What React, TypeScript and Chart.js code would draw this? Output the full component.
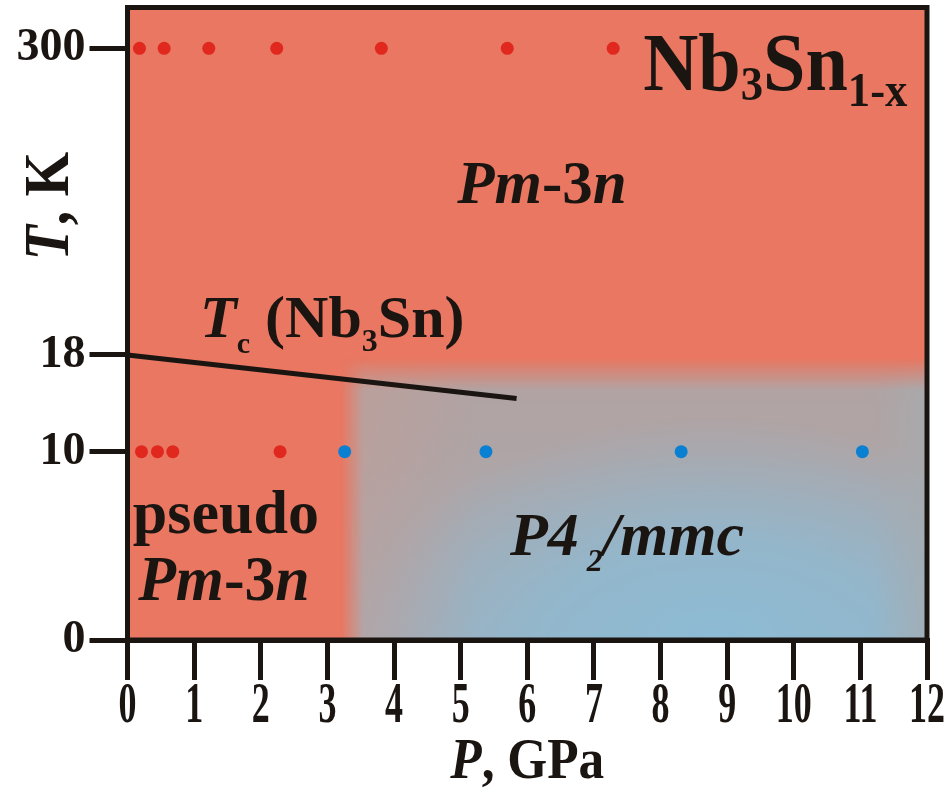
import React, { useEffect, useRef } from 'react';
import { Chart, registerables, LinearScale } from 'chart.js';

// ---------- data ----------
const pressureTicks = [0, 1, 2, 3, 4, 5, 6, 7, 8, 9, 10, 11, 12];
const temperatureTicks = [0, 10, 18, 300];
const temperatureTickLabels = ['0', '10', '18', '300'];

const redPressuresAt300K = [0.18, 0.55, 1.22, 2.24, 3.81, 5.7, 7.29];
const redPressuresAt10K = [0.21, 0.45, 0.68, 2.29];
const bluePressuresAt10K = [3.26, 5.38, 8.31, 11.03];

const tcLinePressures = [0, 5.84];
const tcLineTemperatures = [18, 14.4];

// tetragonal region (P, T) edges
const tetraRegionP = [3.2, 3.55];
const tetraRegionT = [17.75, 15.1];

// ---------- styling / scale definition ----------
const FONT = '"Liberation Serif", "Times New Roman", serif';
const INK = '#1b1512';
const SALMON = 'rgb(233,119,97)';
const RED_DOT = '#e0281f';
const BLUE_DOT = '#0a80d2';

// broken (piecewise-linear) temperature axis
const Y_SEGMENT_VALUES = [0, 10, 18, 300, 337.5];
const Y_SEGMENT_FRACTIONS = [0, 0.2977, 0.4506, 0.9355, 1];

function valueToFrac(v: number): number {
  const vals = Y_SEGMENT_VALUES;
  const fr = Y_SEGMENT_FRACTIONS;
  let i = 0;
  while (i < vals.length - 2 && v > vals[i + 1]) i++;
  return fr[i] + ((v - vals[i]) / (vals[i + 1] - vals[i])) * (fr[i + 1] - fr[i]);
}
function fracToValue(f: number): number {
  const vals = Y_SEGMENT_VALUES;
  const fr = Y_SEGMENT_FRACTIONS;
  let i = 0;
  while (i < fr.length - 2 && f > fr[i + 1]) i++;
  return vals[i] + ((f - fr[i]) / (fr[i + 1] - fr[i])) * (vals[i + 1] - vals[i]);
}

class BrokenLinearScale extends (LinearScale as any) {
  static id = 'brokenLinear';
  static defaults = {};
  getPixelForValue(value: number) {
    return (this as any).getPixelForDecimal(valueToFrac(value));
  }
  getValueForPixel(pixel: number) {
    return fracToValue((this as any).getDecimalForPixel(pixel));
  }
}

Chart.register(...registerables, BrokenLinearScale as any);

type Run = { t: string; size: number; italic?: boolean; dy?: number };

function runsWidth(ctx: CanvasRenderingContext2D, runs: Run[]) {
  let w = 0;
  for (const r of runs) {
    ctx.font = `${r.italic ? 'italic ' : ''}bold ${r.size}px ${FONT}`;
    w += ctx.measureText(r.t).width;
  }
  return w;
}

function drawRuns(ctx: CanvasRenderingContext2D, x: number, y: number, runs: Run[], sx = 1, align: 'left' | 'center' = 'left') {
  ctx.save();
  ctx.translate(x, y);
  ctx.scale(sx, 1);
  ctx.fillStyle = INK;
  ctx.textAlign = 'left';
  ctx.textBaseline = 'alphabetic';
  let cx = align === 'center' ? -runsWidth(ctx, runs) / 2 : 0;
  for (const r of runs) {
    ctx.font = `${r.italic ? 'italic ' : ''}bold ${r.size}px ${FONT}`;
    ctx.fillText(r.t, cx, r.dy || 0);
    cx += ctx.measureText(r.t).width;
  }
  ctx.restore();
}

// annotations anchored in data coordinates (P, T) = left/baseline
const annotations: { p: number; t: number; sx: number; runs: Run[] }[] = [
  {
    p: 7.74, t: 262, sx: 0.93,
    runs: [
      { t: 'Nb', size: 82 },
      { t: '3', size: 48, dy: 10 },
      { t: 'Sn', size: 82 },
      { t: '1-x', size: 48, dy: 16 },
    ],
  },
  {
    p: 4.95, t: 157.8, sx: 1,
    runs: [
      { t: 'Pm', size: 61, italic: true },
      { t: '-3', size: 61 },
      { t: 'n', size: 61, italic: true },
    ],
  },
  {
    p: 1.09, t: 34.5, sx: 1,
    runs: [
      { t: 'T', size: 60, italic: true },
      { t: 'c', size: 30, dy: 16 },
      { t: ' (Nb', size: 60 },
      { t: '3', size: 32, dy: 14 },
      { t: 'Sn)', size: 60 },
    ],
  },
  { p: 0.08, t: 5.68, sx: 1, runs: [{ t: 'pseudo', size: 62 }] },
  {
    p: 0.16, t: 2.12, sx: 0.98,
    runs: [
      { t: 'Pm', size: 63, italic: true },
      { t: '-3', size: 63 },
      { t: 'n', size: 63, italic: true },
    ],
  },
  {
    p: 5.74, t: 4.51, sx: 1,
    runs: [
      { t: 'P4', size: 62, italic: true },
      { t: ' 2', size: 32, italic: true, dy: 16 },
      { t: '/mmc', size: 62, italic: true },
    ],
  },
];

const backgroundPlugin = {
  id: 'phaseBackground',
  beforeDatasetsDraw(chart: any) {
    const { ctx, chartArea } = chart;
    const xs = chart.scales.x;
    const ys = chart.scales.y;
    const { left, top, right, bottom } = chartArea;
    ctx.save();
    ctx.fillStyle = SALMON;
    ctx.fillRect(left, top, right - left, bottom - top);

    const x0 = xs.getPixelForValue(tetraRegionP[0]);
    const x1 = xs.getPixelForValue(tetraRegionP[1]);
    const y0 = ys.getPixelForValue(tetraRegionT[0]);
    const y1 = ys.getPixelForValue(tetraRegionT[1]);
    const w = Math.ceil(right - x0);
    const h = Math.ceil(bottom - y0);
    const off = document.createElement('canvas');
    off.width = w;
    off.height = h;
    const o = off.getContext('2d') as CanvasRenderingContext2D;
    o.fillStyle = 'rgb(178,163,162)';
    o.fillRect(0, 0, w, h);
    let g = o.createLinearGradient(0, 0, 0, h);
    g.addColorStop(0, 'rgba(150,182,202,0)');
    g.addColorStop(0.35, 'rgba(150,182,202,0.1)');
    g.addColorStop(1, 'rgba(150,182,202,0.6)');
    o.fillStyle = g;
    o.fillRect(0, 0, w, h);
    const cx = xs.getPixelForValue(8.8) - x0;
    o.save();
    o.translate(cx, h);
    o.scale(1, 0.62);
    const rg = o.createRadialGradient(0, 0, 0, 0, 0, 360);
    rg.addColorStop(0, 'rgba(140,188,214,0.95)');
    rg.addColorStop(0.45, 'rgba(140,188,214,0.7)');
    rg.addColorStop(1, 'rgba(140,188,214,0)');
    o.fillStyle = rg;
    o.fillRect(-cx - 10, -h / 0.62 - 10, w + 20, h / 0.62 + 20);
    o.restore();
    g = o.createLinearGradient(0, 0, xs.getPixelForValue(5.2) - x0, 0);
    g.addColorStop(0, 'rgba(196,156,148,0.55)');
    g.addColorStop(1, 'rgba(196,156,148,0)');
    o.fillStyle = g;
    o.fillRect(0, 0, w, h);
    g = o.createLinearGradient(xs.getPixelForValue(11.2) - x0, 0, w, 0);
    g.addColorStop(0, 'rgba(166,172,176,0)');
    g.addColorStop(1, 'rgba(166,172,176,0.7)');
    o.fillStyle = g;
    o.fillRect(0, 0, w, h);
    o.globalCompositeOperation = 'destination-in';
    g = o.createLinearGradient(0, 0, x1 - x0, 0);
    g.addColorStop(0, 'rgba(0,0,0,0)');
    g.addColorStop(1, 'rgba(0,0,0,1)');
    o.fillStyle = g;
    o.fillRect(0, 0, w, h);
    g = o.createLinearGradient(0, 0, 0, y1 - y0);
    g.addColorStop(0, 'rgba(0,0,0,0)');
    g.addColorStop(1, 'rgba(0,0,0,1)');
    o.fillStyle = g;
    o.fillRect(0, 0, w, h);

    ctx.beginPath();
    ctx.rect(left, top, right - left, bottom - top);
    ctx.clip();
    ctx.drawImage(off, x0, y0);
    ctx.restore();
  },
};

const overlayPlugin = {
  id: 'overlay',
  afterDatasetsDraw(chart: any) {
    const { ctx, chartArea } = chart;
    const xs = chart.scales.x;
    const ys = chart.scales.y;
    for (const a of annotations) {
      drawRuns(ctx, xs.getPixelForValue(a.p), ys.getPixelForValue(a.t), a.runs, a.sx);
    }
    ctx.save();
    ctx.strokeStyle = INK;
    ctx.lineWidth = 5;
    ctx.lineJoin = 'miter';
    ctx.strokeRect(chartArea.left, chartArea.top, chartArea.right - chartArea.left, chartArea.bottom - chartArea.top);
    ctx.restore();
  },
  afterDraw(chart: any) {
    const { ctx, chartArea } = chart;
    const xs = chart.scales.x;
    ctx.save();
    ctx.fillStyle = INK;
    ctx.font = `bold 58px ${FONT}`;
    ctx.textAlign = 'center';
    ctx.textBaseline = 'alphabetic';
    for (const tk of xs.ticks) {
      const px = xs.getPixelForValue(tk.value);
      ctx.save();
      ctx.translate(px, 722);
      ctx.scale(0.62, 1);
      ctx.fillText(String(tk.value), 0, 0);
      ctx.restore();
    }
    ctx.restore();
    drawRuns(
      ctx,
      (chartArea.left + chartArea.right) / 2,
      778,
      [
        { t: 'P', size: 57, italic: true },
        { t: ', GPa', size: 57 },
      ],
      0.9,
      'center'
    );
    ctx.save();
    ctx.translate(68, 206);
    ctx.rotate(-Math.PI / 2);
    drawRuns(
      ctx,
      0,
      0,
      [
        { t: 'T', size: 64, italic: true },
        { t: ', K', size: 64 },
      ],
      0.9,
      'center'
    );
    ctx.restore();
  },
};

export default function App() {
  const ref = useRef<HTMLCanvasElement | null>(null);
  useEffect(() => {
    const canvas = ref.current;
    if (!canvas) return;
    const chart = new Chart(canvas, {
      type: 'scatter',
      data: {
        datasets: [
          {
            type: 'line',
            data: tcLinePressures.map((p, i) => ({ x: p, y: tcLineTemperatures[i] })),
            borderColor: INK,
            borderWidth: 5,
            pointRadius: 0,
            fill: false,
            order: 3,
          } as any,
          {
            data: redPressuresAt300K.map((p) => ({ x: p, y: 300 })),
            backgroundColor: RED_DOT,
            borderWidth: 0,
            pointRadius: 6.5,
            order: 1,
          },
          {
            data: redPressuresAt10K.map((p) => ({ x: p, y: 10 })),
            backgroundColor: RED_DOT,
            borderWidth: 0,
            pointRadius: 6.5,
            order: 1,
          },
          {
            data: bluePressuresAt10K.map((p) => ({ x: p, y: 10 })),
            backgroundColor: BLUE_DOT,
            borderWidth: 0,
            pointRadius: 6.5,
            order: 1,
          },
        ],
      },
      options: {
        animation: false,
        responsive: false,
        maintainAspectRatio: false,
        events: [],
        layout: { padding: { top: 7.5, right: 24, left: 0, bottom: 0 } },
        plugins: { legend: { display: false }, tooltip: { enabled: false } },
        scales: {
          x: {
            type: 'linear',
            min: 0,
            max: 12,
            afterBuildTicks: (s: any) => {
              s.ticks = pressureTicks.map((v) => ({ value: v }));
            },
            afterFit: (s: any) => {
              s.height = 158;
              s.paddingLeft = 0;
              s.paddingRight = 0;
            },
            grid: { drawOnChartArea: false, drawTicks: true, tickLength: 40, color: INK, lineWidth: 5 },
            border: { display: true, color: INK, width: 5 },
            ticks: { display: false },
          },
          y: {
            type: 'brokenLinear' as any,
            min: 0,
            max: 337.5,
            afterBuildTicks: (s: any) => {
              s.ticks = temperatureTicks.map((v) => ({ value: v }));
            },
            afterFit: (s: any) => {
              s.width = 127.5;
              s.paddingTop = 0;
              s.paddingBottom = 0;
            },
            grid: { drawOnChartArea: false, drawTicks: true, tickLength: 38, color: INK, lineWidth: 5 },
            border: { display: true, color: INK, width: 5 },
            ticks: {
              display: true,
              autoSkip: false,
              padding: 4,
              color: INK,
              font: { family: FONT, weight: 'bold', size: 46 },
              callback: (v: any) => {
                const i = temperatureTicks.indexOf(Number(v));
                return i >= 0 ? temperatureTickLabels[i] : '';
              },
            },
          } as any,
        },
      },
      plugins: [backgroundPlugin, overlayPlugin],
    } as any);
    return () => chart.destroy();
  }, []);
  return (
    <div style={{ position: 'absolute', left: 0, top: 0, width: 951, height: 798, background: '#fff' }}>
      <canvas ref={ref} width={951} height={798} style={{ width: 951, height: 798, display: 'block' }} />
    </div>
  );
}
